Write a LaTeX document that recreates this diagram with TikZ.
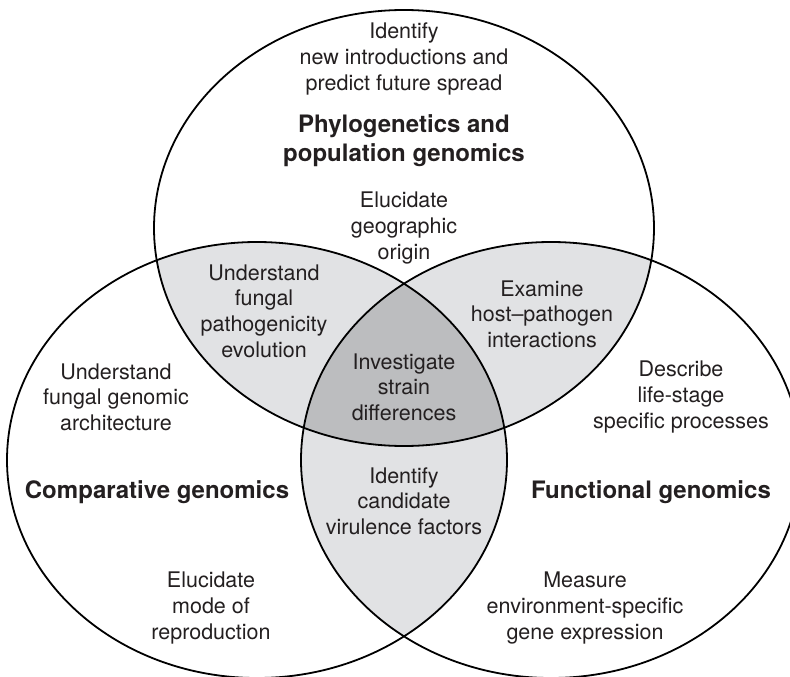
\documentclass[tikz,border=0pt]{standalone}
\usepackage{fontspec}
\setmainfont{TeX Gyre Heros}
\usepackage{tikz}

\definecolor{lightfill}{HTML}{E1E2E4}
\definecolor{darkfill}{HTML}{BCBDBF}
\definecolor{inktext}{HTML}{231F20}

\begin{document}
\begin{tikzpicture}[x=1pt,y=-1pt,
  label/.style={align=center, text=inktext, inner sep=0pt, font=\fontsize{21.5}{25.6}\selectfont},
  title/.style={align=center, text=inktext, inner sep=0pt, font=\fontsize{24}{29}\selectfont\bfseries}]
% Page size and clipping
\useasboundingbox (0,0) rectangle (790,677);
\clip (0,0) rectangle (790,677);
% Centres of the three sets
\coordinate (topc) at (404,228);
\coordinate (leftc) at (257,460);
\coordinate (rightc) at (551,460);
% Shaded overlaps of two sets
\begin{scope}
  \clip (topc) ellipse [x radius=250pt, y radius=218pt];
  \fill[lightfill] (leftc) ellipse [x radius=250pt, y radius=218pt];
  \fill[lightfill] (rightc) ellipse [x radius=250pt, y radius=218pt];
\end{scope}
\begin{scope}
  \clip (leftc) ellipse [x radius=250pt, y radius=218pt];
  \fill[lightfill] (rightc) ellipse [x radius=250pt, y radius=218pt];
\end{scope}
% Overlap of all three sets
\begin{scope}
  \clip (topc) ellipse [x radius=250pt, y radius=218pt];
  \clip (leftc) ellipse [x radius=250pt, y radius=218pt];
  \fill[darkfill] (rightc) ellipse [x radius=250pt, y radius=218pt];
\end{scope}
% Outlines of the sets
\draw[line width=1.8pt] (topc) ellipse [x radius=250pt, y radius=218pt];
\draw[line width=1.8pt] (leftc) ellipse [x radius=250pt, y radius=218pt];
\draw[line width=1.8pt] (rightc) ellipse [x radius=250pt, y radius=218pt];
% Set titles
\node[title] (phylo) at (404,141) {Phylogenetics and\\population genomics};
\node[title] (compgen) at (157,492) {Comparative genomics};
\node[title] (funcgen) at (651,492) {Functional genomics};
% Texts inside one set
\node[label] (idnew) at (404,59) {Identify\\new introductions and\\predict future spread};
\node[label] (elucgeo) at (404,228) {Elucidate\\geographic\\origin};
\node[label] (genarch) at (116,397) {Understand\\fungal genomic\\architecture};
\node[label] (lifestage) at (681,397) {Describe\\life-stage\\specific processes};
\node[label] (repro) at (211,608) {Elucidate\\mode of\\reproduction};
\node[label] (envexp) at (585,608) {Measure\\environment-specific\\gene expression};
% Texts in the overlaps
\node[label] (pathevo) at (264,311) {Understand\\fungal\\pathogenicity\\evolution};
\node[label] (hostpath) at (542,314) {Examine\\host--pathogen\\interactions};
\node[label] (virfac) at (404,501) {Identify\\candidate\\virulence factors};
\node[label] (strain) at (404,387) {Investigate\\strain\\differences};
\end{tikzpicture}
\end{document}
